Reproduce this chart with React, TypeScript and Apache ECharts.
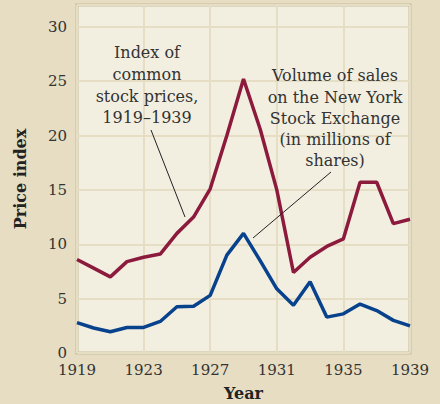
import React, { useEffect, useRef } from "react";
import * as echarts from "echarts";

const years = [1919,1920,1921,1922,1923,1924,1925,1926,1927,1928,1929,1930,1931,1932,1933,1934,1935,1936,1937,1938,1939];
const stockPrices = [8.6,7.8,7.0,8.4,8.8,9.1,11.0,12.5,15.1,20.0,25.2,20.6,15.0,7.4,8.8,9.8,10.5,15.7,15.7,11.9,12.3];
const salesVolume = [2.8,2.3,1.95,2.35,2.35,2.9,4.25,4.3,5.3,9.0,11.0,8.5,5.9,4.4,6.55,3.3,3.6,4.5,3.9,3.0,2.5];
const yTicks = [0,5,10,15,20,25,30];

const FONT = "'DejaVu Serif', 'Liberation Serif', serif";

export default function App() {
  const ref = useRef<HTMLDivElement>(null);
  useEffect(() => {
    const chart = echarts.init(ref.current!, null, { renderer: "svg" });
    const textStyle = { font: `16px ${FONT}`, fill: "#333", textAlign: "center", textVerticalAlign: "middle" };
    chart.setOption({
      animation: false,
      backgroundColor: "#e6ddc3",
      textStyle: { fontFamily: FONT },
      grid: {
        left: 77, right: 30, top: 5, bottom: 51,
        containLabel: false,
        outerBoundsMode: "none",
        show: true, backgroundColor: "#f2efe1", borderColor: "#c6bd9b", borderWidth: 3,
      },
      xAxis: {
        type: "category",
        data: years.map(String),
        boundaryGap: false,
        name: "Year",
        nameLocation: "middle",
        nameGap: 32,
        nameTextStyle: { fontFamily: FONT, fontWeight: "bold", fontSize: 16, color: "#222" },
        axisLine: { show: false },
        axisTick: { show: false },
        axisLabel: { interval: 3, fontSize: 15, color: "#333", margin: 9, fontFamily: FONT },
        splitLine: { show: true, interval: 3, lineStyle: { color: "#e6dec4", width: 2 } },
      },
      yAxis: {
        type: "value",
        min: 0, max: 32, interval: 5,
        name: "Price index",
        nameLocation: "middle",
        nameGap: 49,
        nameTextStyle: { fontFamily: FONT, fontWeight: "bold", fontSize: 16, color: "#222" },
        axisLine: { show: false },
        axisTick: { show: false },
        axisLabel: {
          fontSize: 15, color: "#333", margin: 10, fontFamily: FONT, lineHeight: 15,
          formatter: (v: number) => (yTicks.includes(v) ? String(v) : ""),
        },
        splitLine: { lineStyle: { color: "#e6dec4", width: 2 } },
      },
      series: [
        {
          type: "line", data: stockPrices, symbol: "none",
          lineStyle: { color: "#8c1a3c", width: 3.5 }, z: 3,
        },
        {
          type: "line", data: salesVolume, symbol: "none",
          lineStyle: { color: "#08428c", width: 3.5 }, z: 3,
        },
      ],
      graphic: {
        elements: [
          { type: "text", z: 20, x: 147, y: 52, style: { ...textStyle, text: "Index of" } },
          { type: "text", z: 20, x: 147, y: 74, style: { ...textStyle, text: "common" } },
          { type: "text", z: 20, x: 147, y: 96, style: { ...textStyle, text: "stock prices," } },
          { type: "text", z: 20, x: 147, y: 117, style: { ...textStyle, text: "1919–1939" } },
          { type: "line", z: 20, shape: { x1: 151, y1: 130, x2: 185, y2: 217 }, style: { stroke: "#222", lineWidth: 1 } },
          { type: "text", z: 20, x: 335, y: 75, style: { ...textStyle, text: "Volume of sales" } },
          { type: "text", z: 20, x: 335, y: 97, style: { ...textStyle, text: "on the New York" } },
          { type: "text", z: 20, x: 335, y: 118, style: { ...textStyle, text: "Stock Exchange" } },
          { type: "text", z: 20, x: 335, y: 139, style: { ...textStyle, text: "(in millions of" } },
          { type: "text", z: 20, x: 335, y: 160, style: { ...textStyle, text: "shares)" } },
          { type: "line", z: 20, shape: { x1: 331, y1: 172, x2: 253, y2: 238 }, style: { stroke: "#222", lineWidth: 1 } },
        ],
      },
    });
    return () => chart.dispose();
  }, []);
  return <div ref={ref} style={{ position: "fixed", left: 0, top: 0, width: 440, height: 404 }} />;
}
